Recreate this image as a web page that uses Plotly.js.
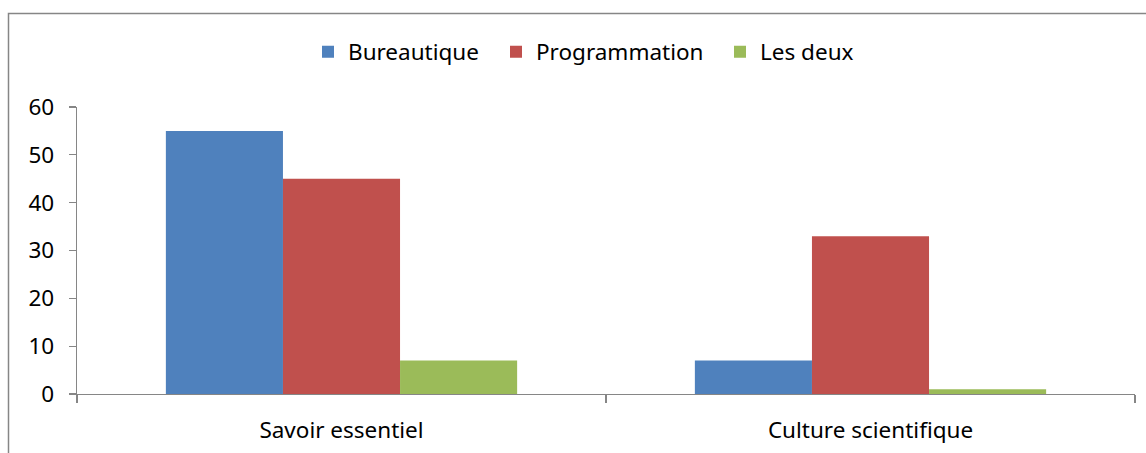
<!DOCTYPE html>
<html>
<head>
<meta charset="utf-8">
<script src="https://cdn.plot.ly/plotly-3.0.1.min.js"></script>
<style>html,body{margin:0;padding:0;background:#fff;}#chart{width:1146px;height:453px;}</style>
</head>
<body>
<div id="chart"></div>
<script>
const categories = ["Savoir essentiel", "Culture scientifique"];
const seriesNames = ["Bureautique", "Programmation", "Les deux"];
const bureautique = [55, 7];
const programmation = [45, 33];
const lesDeux = [7, 1];
const yTicks = [0, 10, 20, 30, 40, 50, 60];

const colors = ["#4F81BD", "#C0504D", "#9BBB59"];
const values = [bureautique, programmation, lesDeux];
const FONT = "Noto Sans, Open Sans, sans-serif";
const FS = 22.5;

const legendIds = ["legend", "legend2", "legend3"];
const legendLeftPx = [308, 496, 720];

const traces = values.map((v, i) => ({
  type: "bar",
  name: seriesNames[i],
  x: categories,
  y: v,
  legend: legendIds[i],
  marker: {color: colors[i], line: {width: 0}},
  hoverinfo: "skip"
}));

const W = 1146, H = 453;
const L = 77, R = 1135, T = 107, B = 394;
const pw = R - L, ph = B - T;

const layout = {
  width: W, height: H,
  margin: {l: L, r: W - R, t: T, b: H - B, pad: 0},
  paper_bgcolor: "#fff",
  plot_bgcolor: "#fff",
  barmode: "group",
  bargap: 0.336,
  bargroupgap: 0,
  font: {family: FONT, size: FS, color: "#000"},
  showlegend: true,
  xaxis: {
    type: "category",
    range: [-0.5, 1.5],
    showline: true, linecolor: "#868686", linewidth: 1.3,
    ticks: "outside", tickson: "boundaries", ticklen: 8, tickcolor: "#868686", tickwidth: 1.3,
    showgrid: false, zeroline: false,
    ticklabelstandoff: 16,
    tickfont: {family: FONT, size: FS, color: "#000"},
    fixedrange: true
  },
  yaxis: {
    range: [0, 60],
    tickvals: yTicks,
    ticktext: yTicks.map(String),
    showline: true, linecolor: "#868686", linewidth: 1.3,
    ticks: "outside", ticklen: 7, tickcolor: "#868686", tickwidth: 1.3,
    showgrid: false, zeroline: false,
    ticklabelstandoff: 10,
    tickfont: {family: FONT, size: FS, color: "#000"},
    fixedrange: true
  },
  shapes: [{
    type: "rect", xref: "paper", yref: "paper",
    x0: (8.5 - L) / pw, x1: (1400 - L) / pw,
    y0: (B - 600) / ph, y1: (B - 13.5) / ph,
    line: {color: "#868686", width: 1.5},
    fillcolor: "rgba(0,0,0,0)",
    layer: "below"
  }]
};

legendIds.forEach((id, i) => {
  layout[id] = {
    orientation: "h",
    x: legendLeftPx[i] / W, xanchor: "left",
    xref: "container",
    y: (H - 52) / H, yanchor: "middle",
    yref: "container",
    font: {family: FONT, size: FS, color: "#000"},
    itemclick: false, itemdoubleclick: false,
    itemwidth: 30,
    bgcolor: "rgba(0,0,0,0)"
  };
});

Plotly.newPlot("chart", traces, layout, {displayModeBar: false, staticPlot: true});
</script>
</body>
</html>
